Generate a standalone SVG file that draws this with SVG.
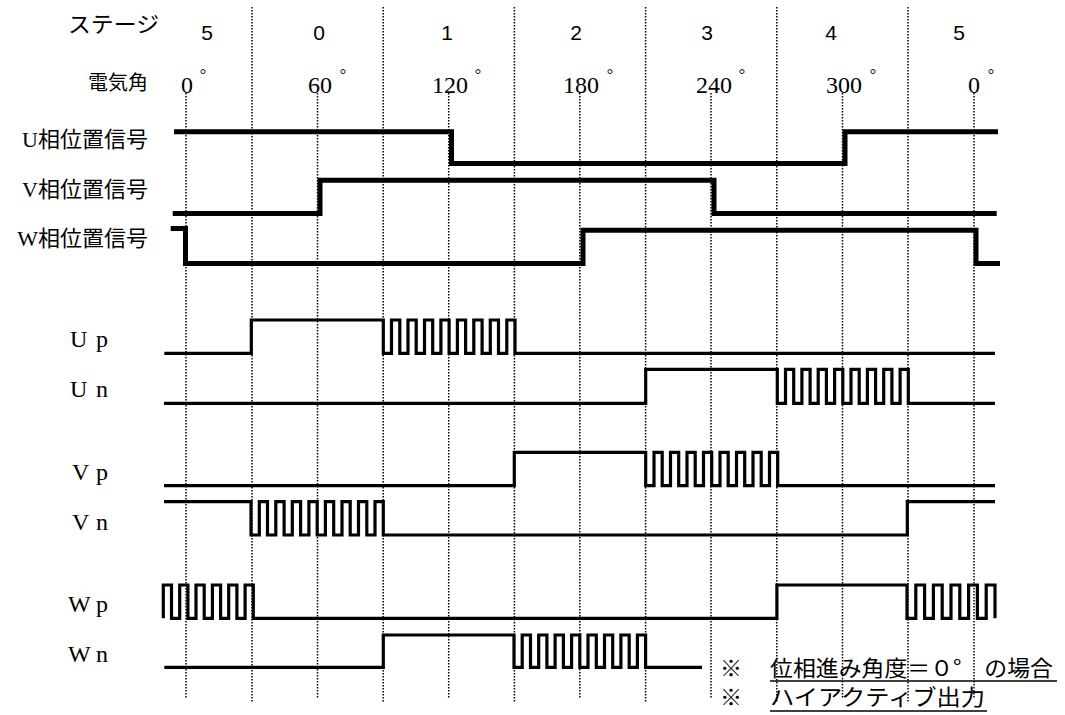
<svg xmlns="http://www.w3.org/2000/svg" width="1065" height="715" viewBox="0 0 1065 715">
<style>
.grid{stroke:#000;stroke-width:1.5;stroke-dasharray:1.5 1.5;fill:none}
.pos{stroke:#000;stroke-width:5;fill:none;stroke-linejoin:miter}
.gate{stroke:#000;stroke-width:3.2;fill:none;stroke-linejoin:miter}
.lbl{font-family:"Liberation Serif","Noto Sans CJK JP",serif;fill:#000}
.stage{font-family:"Liberation Sans",Arial,sans-serif;font-size:21px;fill:#000;text-anchor:middle}
.ang{font-family:"Liberation Serif",serif;font-size:24px;fill:#000;text-anchor:middle}
.deg{font-family:"Liberation Serif",serif;font-size:16px;fill:#000;text-anchor:middle}
.sig{font-family:"Liberation Serif",serif;font-size:24px;fill:#000}
.note{font-family:"Noto Sans CJK JP",sans-serif;font-size:22px;fill:#000}
.ul{stroke:#000;stroke-width:1.6}
</style>
<rect width="1065" height="715" fill="#fff"/>

<g id="grid">
<line class="grid" x1="252" y1="7" x2="252" y2="702"/>
<line class="grid" x1="383.2" y1="7" x2="383.2" y2="702"/>
<line class="grid" x1="514.4" y1="7" x2="514.4" y2="702"/>
<line class="grid" x1="645.6" y1="7" x2="645.6" y2="702"/>
<line class="grid" x1="776.8" y1="7" x2="776.8" y2="702"/>
<line class="grid" x1="908" y1="7" x2="908" y2="702"/>
<line class="grid" x1="186" y1="93" x2="186" y2="698"/>
<line class="grid" x1="317.5" y1="93" x2="317.5" y2="698"/>
<line class="grid" x1="448.7" y1="93" x2="448.7" y2="698"/>
<line class="grid" x1="579.8" y1="93" x2="579.8" y2="698"/>
<line class="grid" x1="711" y1="93" x2="711" y2="698"/>
<line class="grid" x1="842.5" y1="93" x2="842.5" y2="698"/>
<line class="grid" x1="974" y1="93" x2="974" y2="698"/>
</g>

<g id="header">
<text class="lbl" x="68" y="32" font-size="22" textLength="91" lengthAdjust="spacingAndGlyphs">ステージ</text>
<text class="stage" x="207" y="40">5</text>
<text class="stage" x="319" y="40">0</text>
<text class="stage" x="447" y="40">1</text>
<text class="stage" x="576" y="40">2</text>
<text class="stage" x="707" y="40">3</text>
<text class="stage" x="831" y="40">4</text>
<text class="stage" x="959" y="40">5</text>
<text class="lbl" x="148" y="90" font-size="20" text-anchor="end">電気角</text>
<text class="ang" x="187" y="93">0</text><text class="deg" x="203" y="80">°</text>
<text class="ang" x="320" y="93">60</text><text class="deg" x="343" y="80">°</text>
<text class="ang" x="450" y="93">120</text><text class="deg" x="478" y="80">°</text>
<text class="ang" x="581" y="93">180</text><text class="deg" x="610" y="80">°</text>
<text class="ang" x="714" y="93">240</text><text class="deg" x="742" y="80">°</text>
<text class="ang" x="844" y="93">300</text><text class="deg" x="873" y="80">°</text>
<text class="ang" x="974" y="93">0</text><text class="deg" x="991" y="80">°</text>
</g>

<g id="U-position">
<text class="lbl" x="148" y="146.5" font-size="22" text-anchor="end">U相位置信号</text>
<path class="pos" d="M174,131.8 H451.5 V163.5 H845 V131.8 H998"/>
</g>
<g id="V-position">
<text class="lbl" x="148" y="196.5" font-size="22" text-anchor="end">V相位置信号</text>
<path class="pos" d="M172.7,213.5 H320 V180.2 H714 V213.5 H996.7"/>
</g>
<g id="W-position">
<text class="lbl" x="148" y="246" font-size="22" text-anchor="end">W相位置信号</text>
<path class="pos" d="M170.7,228.5 H185.5 V263.5 H583 V230.2 H976 V263.5 H1000"/>
</g>

<g id="Up">
<text class="sig" x="70 96" y="347">Up</text>
<path class="gate" d="M164.3,353.3 H251.3 V320 H383.3 V353.3 H391.5 V320 H399.8 V353.3 H408 V320 H416.2 V353.3 H424.5 V320 H432.7 V353.3 H440.9 V320 H449.1 V353.3 H457.4 V320 H465.6 V353.3 H473.8 V320 H482.1 V353.3 H490.3 V320 H498.5 V353.3 H506.8 V320 H515 V353.3 H995"/>
</g>
<g id="Un">
<text class="sig" x="70 96" y="397">Un</text>
<path class="gate" d="M164,403.3 H645.7 V369.3 H777.3 V403.3 H785.5 V369.3 H793.7 V403.3 H801.9 V369.3 H810.1 V403.3 H818.2 V369.3 H826.4 V403.3 H834.6 V369.3 H842.8 V403.3 H851 V369.3 H859.2 V403.3 H867.4 V369.3 H875.6 V403.3 H883.7 V369.3 H891.9 V403.3 H900.1 V369.3 H908.3 V403.3 H995"/>
</g>
<g id="Vp">
<text class="sig" x="72 96" y="480">Vp</text>
<path class="gate" d="M164,485.7 H514.3 V452.3 H645.7 V485.7 H654 V452.3 H662.2 V485.7 H670.5 V452.3 H678.7 V485.7 H687 V452.3 H695.2 V485.7 H703.5 V452.3 H711.7 V485.7 H720 V452.3 H728.2 V485.7 H736.5 V452.3 H744.7 V485.7 H753 V452.3 H761.2 V485.7 H769.5 V452.3 H777.7 V485.7 H995"/>
</g>
<g id="Vn">
<text class="sig" x="72 96" y="530">Vn</text>
<path class="gate" d="M164,501.7 H251 V535 H259.3 V501.7 H267.5 V535 H275.8 V501.7 H284.1 V535 H292.3 V501.7 H300.6 V535 H308.9 V501.7 H317.2 V535 H325.4 V501.7 H333.7 V535 H342 V501.7 H350.2 V535 H358.5 V501.7 H366.8 V535 H375 V501.7 H383.3 V535 H907.3 V501.7 H995"/>
</g>
<g id="Wp">
<text class="sig" x="68 96" y="612">Wp</text>
<path class="gate" d="M163.3,618.3 V585 H171.5 V618.3 H179.7 V585 H187.9 V618.3 H196 V585 H204.2 V618.3 H212.4 V585 H220.6 V618.3 H228.7 V585 H236.9 V618.3 H245.1 V585 H253.3 V618.3 H776.9 V585 H907 V618.3 H915.8 V585 H924.6 V618.3 H933.4 V585 H942.2 V618.3 H951 V585 H959.8 V618.3 H968.6 V585 H977.4 V618.3 H986.2 V585 H995 V618.3"/>
</g>
<g id="Wn">
<text class="sig" x="68 96" y="662">Wn</text>
<path class="gate" d="M164.3,667.3 H383.3 V635 H514 V667.3 H522.2 V635 H530.5 V667.3 H538.7 V635 H546.9 V667.3 H555.1 V635 H563.4 V667.3 H571.6 V635 H579.8 V667.3 H588 V635 H596.3 V667.3 H604.5 V635 H612.7 V667.3 H620.9 V635 H629.2 V667.3 H637.4 V635 H645.6 V667.3 H702"/>
</g>

<g id="notes">
<text class="note" x="731" y="676" text-anchor="middle">※</text>
<text class="note" x="770" y="676" textLength="283" lengthAdjust="spacingAndGlyphs">位相進み角度＝０°　の場合</text>
<line class="ul" x1="770" y1="681" x2="1057" y2="681"/>
<text class="note" x="731" y="705" text-anchor="middle">※</text>
<text class="note" x="770" y="705" textLength="215" lengthAdjust="spacingAndGlyphs">ハイアクティブ出力</text>
<line class="ul" x1="770" y1="711" x2="987" y2="711"/>
</g>
</svg>
